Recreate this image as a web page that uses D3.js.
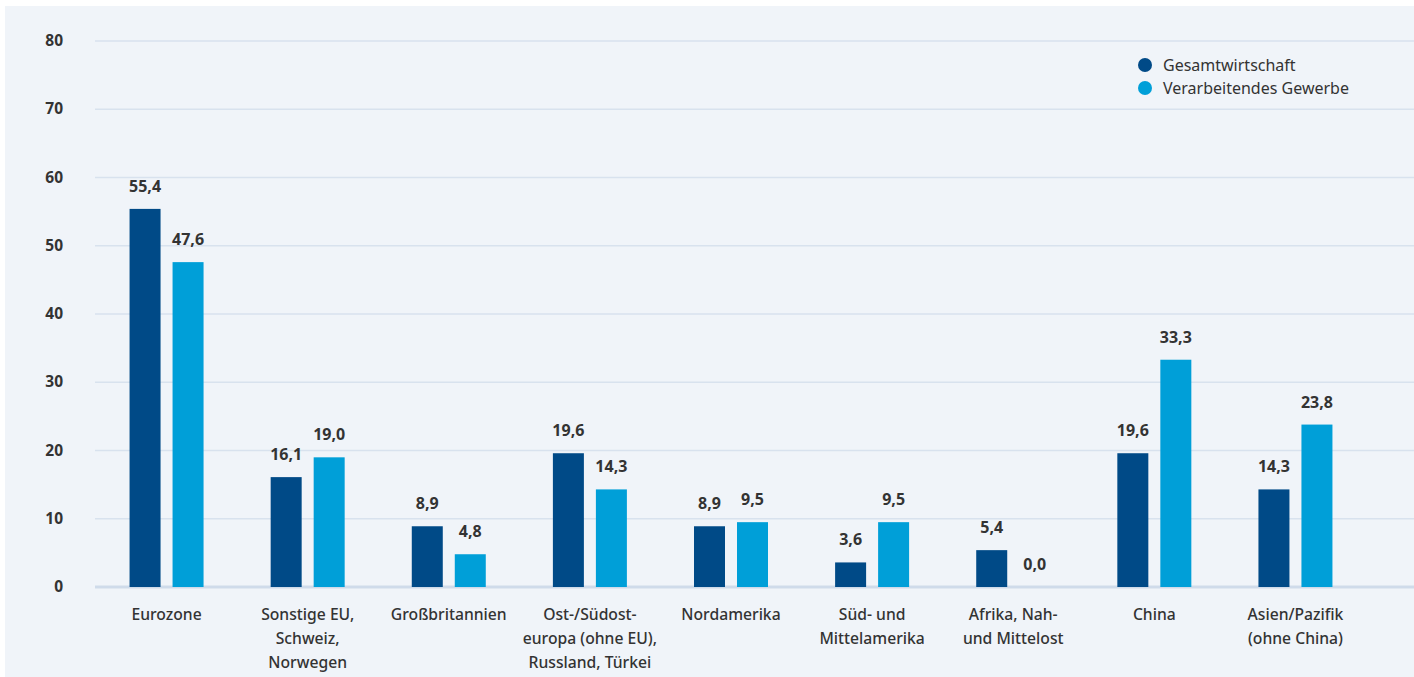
<!DOCTYPE html>
<html>
<head>
<meta charset="utf-8">
<script src="https://cdn.jsdelivr.net/npm/d3@7"></script>
<style>
  html, body { margin: 0; padding: 0; background: #ffffff; }
  svg { display: block; font-family: "Noto Sans", "Open Sans", sans-serif; }
</style>
</head>
<body>
<svg id="chart" width="1414" height="677"></svg>
<script>
// Regions (multi-line labels)
const categories = [
  ["Eurozone"],
  ["Sonstige EU,", "Schweiz,", "Norwegen"],
  ["Großbritannien"],
  ["Ost-/Südost-", "europa (ohne EU),", "Russland, Türkei"],
  ["Nordamerika"],
  ["Süd- und", "Mittelamerika"],
  ["Afrika, Nah-", "und Mittelost"],
  ["China"],
  ["Asien/Pazifik", "(ohne China)"]
];
const seriesNames = ["Gesamtwirtschaft", "Verarbeitendes Gewerbe"];
const gesamtwirtschaft = [55.4, 16.1, 8.9, 19.6, 8.9, 3.6, 5.4, 19.6, 14.3];
const verarbeitendesGewerbe = [47.6, 19.0, 4.8, 14.3, 9.5, 9.5, 0.0, 33.3, 23.8];
const yTicks = [0, 10, 20, 30, 40, 50, 60, 70, 80];

const colors = ["#004a87", "#009fd8"];
const W = 1414, H = 677;
const svg = d3.select("#chart");

// panel background
svg.append("rect").attr("x", 5).attr("y", 6).attr("width", W - 5).attr("height", H - 6)
  .attr("fill", "#f0f4f9");

const y = d3.scaleLinear().domain([0, 80]).range([587, 41]);
const x0 = d3.scaleBand().domain(d3.range(categories.length)).range([96, 1366]).padding(0);
const barW = 31;

// gridlines
svg.append("g").selectAll("line").data(yTicks).join("line")
  .attr("x1", 95).attr("x2", W)
  .attr("y1", d => y(d)).attr("y2", d => y(d))
  .attr("stroke", d => d === 0 ? "#cfdbea" : "#d8e2ee")
  .attr("stroke-width", d => d === 0 ? 3 : 1.5);

// y axis labels
svg.append("g").selectAll("text").data(yTicks).join("text")
  .attr("x", 63).attr("y", d => y(d) + 5)
  .attr("text-anchor", "end")
  .attr("font-size", 15.5).attr("font-weight", 700).attr("fill", "#333")
  .text(d => d);

const series = [gesamtwirtschaft, verarbeitendesGewerbe];
const fmt = v => v.toFixed(1).replace(".", ",");

series.forEach((vals, s) => {
  const g = svg.append("g");
  const cx = i => x0(i) + x0.bandwidth() / 2 + (s === 0 ? -21.5 : 21.5);
  g.selectAll("rect").data(vals).join("rect")
    .attr("x", (d, i) => cx(i) - barW / 2)
    .attr("y", d => y(d))
    .attr("width", barW)
    .attr("height", d => y(0) - y(d))
    .attr("fill", colors[s]);
  g.selectAll("text").data(vals).join("text")
    .attr("x", (d, i) => cx(i))
    .attr("y", d => y(d) - 17)
    .attr("text-anchor", "middle")
    .attr("font-size", 16).attr("font-weight", 700).attr("fill", "#333")
    .text(d => fmt(d));
});

// category labels
const cat = svg.append("g").selectAll("text").data(categories).join("text")
  .attr("x", (d, i) => x0(i) + x0.bandwidth() / 2)
  .attr("y", 620)
  .attr("text-anchor", "middle")
  .attr("font-size", 15.7).attr("font-weight", 500).attr("fill", "#333");
cat.selectAll("tspan").data(d => d).join("tspan")
  .attr("x", function () { return d3.select(this.parentNode).attr("x"); })
  .attr("dy", (d, i) => i === 0 ? 0 : 24)
  .text(d => d);

// legend
const leg = svg.append("g").selectAll("g").data(seriesNames).join("g")
  .attr("transform", (d, i) => `translate(1145, ${65 + i * 23})`);
leg.append("circle").attr("r", 7).attr("fill", (d, i) => colors[i]);
leg.append("text").attr("x", 18).attr("y", 5.5)
  .attr("font-size", 16).attr("fill", "#333").text(d => d);
</script>
</body>
</html>
